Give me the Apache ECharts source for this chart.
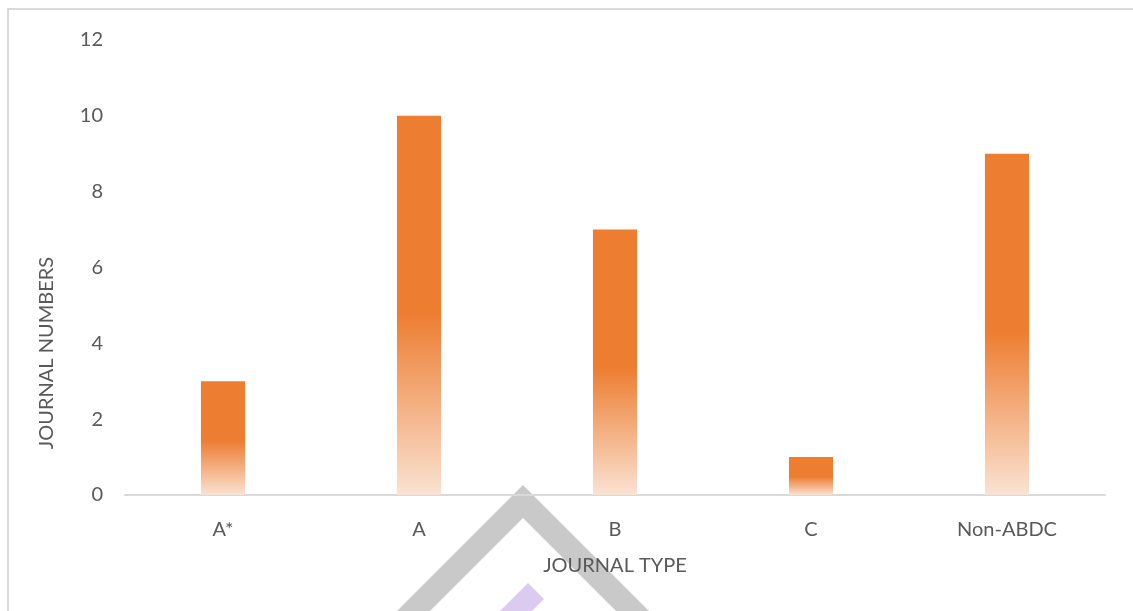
<!DOCTYPE html>
<html>
<head>
<meta charset="utf-8">
<script src="https://cdn.jsdelivr.net/npm/echarts@6/dist/echarts.min.js"></script>
<style>
  html, body { margin: 0; padding: 0; background: #fff; }
  #chart { width: 1133px; height: 611px; }
</style>
</head>
<body>
<div id="chart"></div>
<script>
// Journal counts by ABDC ranking
const categories = ['A*', 'A', 'B', 'C', 'Non-ABDC'];
const journalCounts = [3, 10, 7, 1, 9];
const yTicks = { min: 0, max: 12, interval: 2 };
const xTitle = 'JOURNAL TYPE';
const yTitle = 'JOURNAL NUMBERS';

const FONT = 'Lato, "Open Sans", sans-serif';
const TEXT = '#595959';
const SIZE = 20;

const chart = echarts.init(document.getElementById('chart'), null, { renderer: 'canvas' });

chart.setOption({
  backgroundColor: '#ffffff',
  animation: false,
  grid: { left: 125, right: 28, top: 40, bottom: 116, containLabel: false },
  xAxis: {
    type: 'category',
    data: categories,
    name: xTitle,
    nameLocation: 'middle',
    nameGap: 71,
    nameTextStyle: { color: TEXT, fontSize: SIZE, fontFamily: FONT, verticalAlign: 'middle' },
    axisLine: { show: true, lineStyle: { color: '#d9d9d9', width: 2 } },
    axisTick: { show: false },
    axisLabel: { color: TEXT, fontSize: SIZE, fontFamily: FONT, margin: 25 },
    splitLine: { show: false }
  },
  yAxis: {
    type: 'value',
    min: yTicks.min,
    max: yTicks.max,
    interval: yTicks.interval,
    axisLine: { show: false },
    axisTick: { show: false },
    axisLabel: { color: TEXT, fontSize: SIZE, fontFamily: FONT, margin: 22 },
    splitLine: { show: false }
  },
  series: [{
    type: 'bar',
    data: journalCounts,
    barWidth: '22.5%',
    itemStyle: {
      color: {
        type: 'linear', x: 0, y: 0, x2: 0, y2: 1,
        colorStops: [
          { offset: 0, color: '#ED7D31' },
          { offset: 0.52, color: '#ED7D31' },
          { offset: 1, color: '#FAE2D2' }
        ]
      }
    }
  }],
  graphic: [
    // outer frame
    {
      type: 'polyline', z: -20, silent: true,
      shape: { points: [[8, 611], [8, 9], [1133, 9]] },
      style: { stroke: '#d9d9d9', lineWidth: 2, fill: null }
    },
    // grey chevron mark
    {
      type: 'polygon', z: -10, silent: true,
      shape: { points: [[397, 611], [523, 485], [649, 611], [616, 611], [523, 518], [430, 611]] },
      style: { fill: '#c9c9c9' }
    },
    // lavender stroke
    {
      type: 'polygon', z: -10, silent: true,
      shape: { points: [[528, 583], [544, 599], [532, 611], [500, 611]] },
      style: { fill: '#dccbf0' }
    },
    // vertical axis title
    {
      type: 'text', silent: true,
      x: 47, y: 353, rotation: Math.PI / 2,
      style: {
        text: yTitle, fill: TEXT, font: SIZE + 'px ' + FONT,
        textAlign: 'center', textVerticalAlign: 'middle', verticalAlign: 'middle'
      }
    }
  ]
});
</script>
</body>
</html>
